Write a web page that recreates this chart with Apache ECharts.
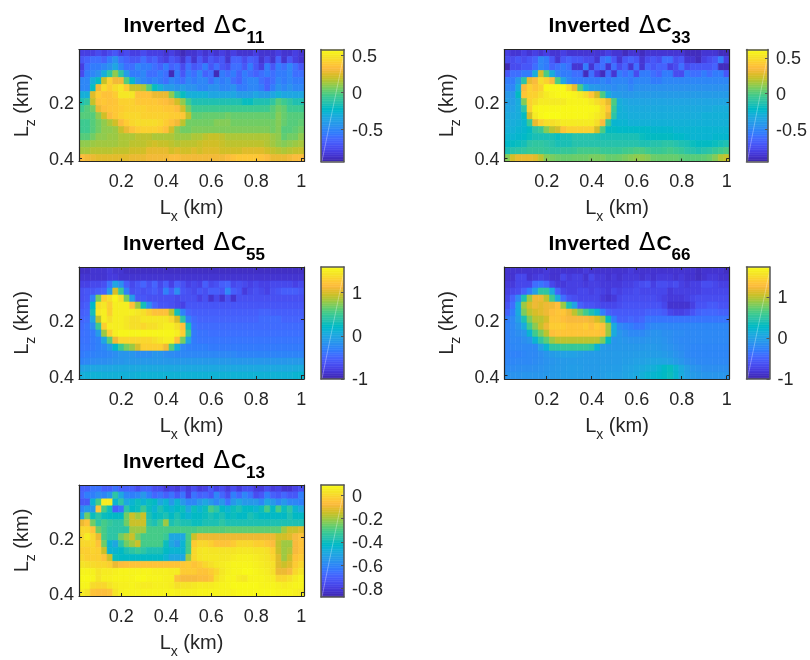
<!DOCTYPE html>
<html><head><meta charset="utf-8">
<style>html,body{margin:0;padding:0;background:#fff}#c{width:810px;height:660px;filter:blur(.55px)}</style>
<script src="https://cdn.jsdelivr.net/npm/echarts@6/dist/echarts.min.js"></script>
</head><body><div id="c"></div>
<script>
const lxKm=[.025,.05,.075,.1,.125,.15,.175,.2,.225,.25,.275,.3,.325,.35,.375,.4,.425,.45,.475,.5,.525,.55,.575,.6,.625,.65,.675,.7,.725,.75,.775,.8,.825,.85,.875,.9,.925,.95,.975,1];
const lzKm=[.025,.05,.075,.1,.125,.15,.175,.2,.225,.25,.275,.3,.325,.35,.375,.4];
const xTicks=[.2,.4,.6,.8,1];
const zTicks=[.2,.4];
const c11=[
[-.8,-.8,-.8,-.75,-.8,-.75,-.7,-.8,-.75,-.8,-.8,-.75,-.8,-.8,-.8,-.85,-.8,-.85,-.9,-.85,-.85,-.8,-.85,-.8,-.85,-.8,-.85,-.8,-.85,-.85,-.85,-.8,-.85,-.85,-.85,-.8,-.85,-.85,-.8,-.85],
[-.7,-.65,-.6,-.6,-.65,-.55,-.45,-.6,-.65,-.7,-.7,-.6,-.7,-.65,-.75,-.8,-.7,-.75,-.85,-.7,-.85,-.7,-.8,-.7,-.75,-.7,-.85,-.65,-.65,-.75,-.65,-.7,-.85,-.75,-.85,-.65,-.85,-.7,-.8,-.85],
[-.8,-.6,-.55,-.55,-.5,-.45,-.35,-.5,-.6,-.6,-.5,-.55,-.55,-.6,-.65,-.55,-.65,-.6,-.75,-.6,-.7,-.65,-.55,-.7,-.6,-.7,-.75,-.6,-.6,-.7,-.55,-.7,-.8,-.55,-.7,-.55,-.6,-.5,-.6,-.7],
[-.75,-.55,-.5,-.45,-.3,-.1,.1,-.1,-.4,-.55,-.55,-.5,-.6,-.6,-.55,-.6,-.9,-.55,-.7,-.55,-.6,-.5,-.65,-.6,-.9,-.55,-.6,-.55,-.65,-.55,-.6,-.65,-.6,-.55,-.6,-.55,-.55,-.5,-.6,-.6],
[-.5,-.5,-.3,-.2,.2,.42,.3,.3,0,-.25,-.45,-.5,-.55,-.5,-.55,-.6,-.5,-.55,-.6,-.5,-.55,-.5,-.5,-.6,-.5,-.55,-.5,-.6,-.65,-.55,-.5,-.5,-.6,-.65,-.6,-.5,-.55,-.5,-.55,-.55],
[-.5,-.5,-.2,.3,.46,.4,.46,.5,.4,.2,.2,.15,0,-.2,-.3,-.4,-.4,-.45,-.4,-.45,-.45,-.5,-.5,-.45,-.45,-.5,-.5,-.45,-.55,-.55,-.5,-.5,-.55,-.65,-.55,-.45,-.5,-.45,-.5,-.5],
[-.3,-.3,.25,.4,.36,.36,.4,.5,.5,.5,.36,.36,.36,.28,.28,.28,.1,-.1,-.2,-.3,-.3,-.3,-.3,-.35,-.35,-.35,-.35,-.35,-.4,-.4,-.4,-.35,-.4,-.4,-.35,-.3,-.35,-.35,-.35,-.35],
[-.15,-.1,.2,.36,.38,.36,.37,.42,.42,.42,.38,.38,.38,.38,.36,.34,.3,.22,.1,-.05,-.15,-.15,-.15,-.15,-.15,-.15,-.15,-.15,-.15,-.2,-.2,-.15,-.15,-.15,-.1,0,-.05,-.1,-.15,-.15],
[-.05,0,.05,.28,.35,.37,.38,.4,.42,.42,.42,.42,.4,.4,.4,.38,.38,.34,.22,.05,-.05,-.05,-.05,-.05,-.05,-.05,-.05,-.05,-.05,-.05,-.05,-.05,-.05,-.05,0,.05,.02,-.05,-.05,-.05],
[0,0,0,.1,.22,.33,.38,.42,.44,.44,.44,.42,.42,.42,.42,.42,.4,.4,.38,.18,.02,.02,.03,.03,.03,.03,.05,.03,.03,.03,.03,.03,.03,.03,.02,.08,.03,0,0,0],
[-.05,-.05,0,.05,.1,.15,.22,.33,.4,.44,.46,.46,.46,.46,.44,.4,.36,.3,.18,.05,.05,.05,.05,.05,.08,.08,.08,.05,.05,.05,.05,.05,.05,.05,.05,.08,.03,0,0,.02],
[-.05,-.05,0,.05,.1,.1,.12,.2,.28,.36,.4,.42,.42,.42,.4,.35,.22,.1,.05,.05,.07,.07,.07,.07,.07,.07,.07,.07,.07,.07,.07,.07,.07,.07,.05,.08,0,0,.02,.05],
[0,0,.05,.1,.1,.12,.12,.15,.15,.15,.18,.18,.18,.15,.15,.15,.15,.12,.12,.12,.15,.15,.18,.2,.2,.18,.15,.15,.15,.15,.15,.15,.15,.15,.12,.1,.02,.05,.05,.1],
[.1,.1,.12,.13,.13,.13,.13,.15,.15,.18,.18,.18,.2,.22,.2,.2,.18,.16,.18,.18,.18,.2,.22,.22,.22,.2,.18,.18,.18,.18,.18,.18,.18,.16,.13,.1,.08,.1,.12,.14],
[.14,.14,.17,.17,.17,.17,.19,.19,.19,.22,.22,.22,.27,.27,.27,.27,.22,.25,.22,.22,.25,.22,.25,.25,.25,.22,.22,.22,.22,.25,.25,.25,.25,.22,.19,.17,.15,.17,.19,.2],
[.33,.3,.28,.26,.26,.26,.26,.26,.26,.28,.28,.28,.3,.3,.3,.3,.33,.33,.3,.3,.3,.3,.3,.3,.3,.3,.33,.36,.38,.38,.38,.38,.36,.33,.28,.28,.28,.3,.33,.33]];
const c33=[
[-.8,-.85,-.85,-.8,-.85,-.8,-.85,-.8,-.85,-.85,-.8,-.85,-.85,-.85,-.85,-.85,-.85,-.85,-.8,-.85,-.85,-.9,-.85,-.85,-.9,-.85,-.85,-.85,-.85,-.85,-.85,-.85,-.9,-.9,-.9,-.85,-.85,-.85,-.9,-.9],
[-.75,-.75,-.7,-.75,-.7,-.65,-.5,-.55,-.7,-.85,-.7,-.65,-.7,-.7,-.75,-.75,-.85,-.6,-.55,-.7,-.85,-.7,-.65,-.7,-.85,-.75,-.7,-.75,-.6,-.6,-.75,-.7,-.85,-.85,-.9,-.8,-.75,-.7,-.55,-.8],
[-.92,-.75,-.75,-.7,-.7,-.6,-.5,-.55,-.65,-.6,-.55,-.6,-.85,-.85,-.55,-.85,-.65,-.6,-.85,-.6,-.75,-.65,-.85,-.6,-.85,-.65,-.7,-.65,-.65,-.8,-.75,-.6,-.75,-.7,-.7,-.7,-.7,-.65,-.9,-.9],
[-.7,-.6,-.6,-.55,-.55,-.3,.25,0,-.3,-.5,-.55,-.55,-.6,-.6,-.9,-.6,-.8,-.9,-.6,-.85,-.55,-.6,-.55,-.75,-.55,-.55,-.6,-.65,-.55,-.55,-.75,-.75,-.55,-.6,-.6,-.55,-.6,-.55,-.55,-.7],
[-.55,-.55,-.4,-.1,.3,.35,.5,.45,.35,0,-.35,-.5,-.55,-.55,-.55,-.55,-.55,-.5,-.55,-.5,-.5,-.5,-.55,-.5,-.5,-.5,-.55,-.55,-.5,-.5,-.5,-.5,-.5,-.5,-.5,-.5,-.5,-.5,-.5,-.5],
[-.5,-.5,-.3,.35,.45,.4,.45,.6,.6,.6,.6,.5,.3,0,-.3,-.4,-.42,-.45,-.45,-.48,-.45,-.45,-.5,-.45,-.45,-.45,-.45,-.45,-.45,-.45,-.45,-.45,-.45,-.45,-.45,-.45,-.45,-.45,-.45,-.45],
[-.42,-.42,-.2,.4,.45,.45,.5,.55,.58,.6,.6,.6,.58,.55,.5,.4,.25,0,-.3,-.4,-.4,-.42,-.42,-.4,-.4,-.4,-.4,-.4,-.4,-.4,-.4,-.4,-.4,-.4,-.4,-.4,-.4,-.4,-.4,-.4],
[-.38,-.38,-.3,.1,.45,.5,.55,.55,.55,.55,.55,.58,.58,.58,.58,.55,.5,.45,.3,0,-.3,-.33,-.35,-.35,-.35,-.35,-.35,-.35,-.35,-.35,-.35,-.35,-.35,-.35,-.35,-.35,-.35,-.35,-.35,-.35],
[-.35,-.35,-.3,-.1,.45,.58,.6,.6,.6,.6,.6,.6,.6,.6,.6,.6,.58,.5,.4,-.05,-.28,-.3,-.32,-.32,-.32,-.32,-.32,-.32,-.32,-.32,-.32,-.32,-.32,-.32,-.32,-.32,-.32,-.3,-.3,-.3],
[-.32,-.32,-.3,-.2,.25,.55,.6,.62,.62,.62,.6,.6,.6,.6,.6,.58,.55,.5,.3,-.1,-.28,-.28,-.3,-.3,-.3,-.3,-.3,-.3,-.3,-.3,-.3,-.3,-.3,-.3,-.3,-.28,-.28,-.28,-.28,-.28],
[-.3,-.3,-.28,-.25,-.05,.3,.45,.5,.5,.52,.55,.55,.55,.55,.55,.55,.5,.35,-.05,-.25,-.26,-.26,-.28,-.28,-.28,-.28,-.28,-.28,-.28,-.28,-.28,-.28,-.28,-.28,-.28,-.28,-.28,-.28,-.28,-.28],
[-.28,-.28,-.26,-.24,-.2,-.1,-.05,.1,.2,.25,.4,.45,.45,.45,.45,.45,.25,0,-.2,-.2,-.22,-.22,-.22,-.22,-.22,-.22,-.24,-.24,-.24,-.24,-.26,-.26,-.26,-.26,-.26,-.26,-.26,-.26,-.26,-.26],
[-.26,-.26,-.24,-.22,-.18,-.15,-.15,-.15,-.15,-.18,-.15,-.15,-.12,-.12,-.12,-.12,-.14,-.15,-.15,-.15,-.15,-.15,-.15,-.15,-.18,-.2,-.2,-.2,-.2,-.2,-.22,-.22,-.24,-.26,-.26,-.26,-.26,-.24,-.24,-.24],
[-.22,-.2,-.18,-.16,-.1,-.08,-.08,-.1,-.12,-.15,-.15,-.15,-.12,-.12,-.12,-.12,-.12,-.12,-.12,-.12,-.12,-.12,-.12,-.12,-.14,-.14,-.12,-.12,-.1,-.1,-.12,-.14,-.15,-.18,-.2,-.2,-.2,-.18,-.16,-.14],
[-.15,-.12,-.1,-.08,-.05,-.05,-.05,-.06,-.08,-.08,-.06,-.06,-.05,-.02,-.02,-.02,-.02,-.05,-.05,-.05,-.05,-.03,-.02,0,0,-.03,-.05,-.05,-.04,-.02,-.04,-.06,-.1,-.12,-.14,-.12,-.1,-.06,-.03,0],
[.1,.25,.3,.3,.3,.28,.2,.1,.08,.06,.05,.05,.06,.06,.06,.08,.08,.08,.05,.05,.06,.08,.1,.12,.12,.1,.06,.05,.05,.05,.05,.03,.02,.02,.02,.03,.05,.1,.18,.22]];
const c55=[
[-.9,-.9,-.85,-.85,-.85,-.8,-.85,-.85,-.9,-.9,-.9,-.9,-.9,-.9,-.9,-.9,-.9,-.9,-.9,-.9,-.9,-.9,-.9,-.9,-.9,-.9,-.9,-.9,-.9,-.9,-.9,-.9,-.9,-.9,-.9,-.9,-.9,-.9,-.9,-.9],
[-.85,-.85,-.85,-.85,-.85,-.8,-.8,-.85,-.85,-.85,-.85,-.85,-.85,-.85,-.85,-.85,-.85,-.85,-.85,-.85,-.85,-.85,-.85,-.85,-.85,-.85,-.85,-.85,-.85,-.85,-.85,-.85,-.85,-.85,-.85,-.85,-.85,-.85,-.85,-.85],
[-.75,-.75,-.7,-.7,-.65,-.4,0,-.2,-.55,-.7,-.6,-.5,-.65,-.5,-.7,-.55,-.75,-.55,-.65,-.75,-.7,-.75,-.55,-.7,-.65,-.55,-.5,-.7,-.65,-.7,-.75,-.7,-.75,-.75,-.7,-.7,-.7,-.7,-.75,-.7],
[-.65,-.6,-.6,-.55,-.5,-.1,1,.5,-.3,-.65,-.6,-.65,-.6,-.55,-.65,-.3,-.55,-.2,-.6,-.65,-.7,-.6,-.65,-.55,-.55,-.6,-.25,-.55,-.6,-.8,-.7,-.65,-.7,-.75,-.65,-.6,-.55,-.55,-.55,-.6],
[-.65,-.6,-.3,.7,1.3,1.4,1.55,1.4,.7,-.1,-.6,-.6,-.65,-.65,-.65,-.65,-.65,-.7,-.65,-.65,-.65,-.75,-.65,-.85,-.7,-.85,-.65,-.85,-.65,-.65,-.65,-.65,-.65,-.65,-.65,-.65,-.65,-.65,-.65,-.65],
[-.6,-.55,.2,1.4,1.45,1.3,1.5,1.5,1.5,1.2,.8,.3,-.2,-.5,-.6,-.6,-.65,-.7,-.75,-.6,-.6,-.6,-.6,-.6,-.6,-.6,-.6,-.6,-.6,-.6,-.6,-.6,-.6,-.6,-.6,-.6,-.6,-.6,-.6,-.6],
[-.55,-.5,.3,1.45,1.5,1.3,1.5,1.5,1.5,1.5,1.45,1.4,1.3,1.2,1.2,1.2,.9,.3,-.3,-.5,-.55,-.55,-.55,-.55,-.55,-.55,-.55,-.55,-.55,-.55,-.55,-.55,-.5,-.5,-.55,-.55,-.55,-.55,-.55,-.55],
[-.5,-.45,0,.9,1.5,1.4,1.5,1.5,1.45,1.4,1.4,1.45,1.45,1.45,1.45,1.45,1.35,1,.4,-.3,-.45,-.5,-.5,-.5,-.5,-.5,-.5,-.5,-.5,-.5,-.5,-.5,-.45,-.45,-.45,-.45,-.5,-.5,-.5,-.5],
[-.45,-.4,-.2,.5,1.3,1.5,1.5,1.5,1.45,1.4,1.4,1.35,1.4,1.4,1.45,1.5,1.5,1.4,1.2,.3,-.4,-.45,-.45,-.45,-.45,-.45,-.45,-.45,-.45,-.45,-.45,-.45,-.45,-.45,-.45,-.45,-.45,-.45,-.45,-.45],
[-.42,-.4,-.35,-.1,.8,1.3,1.5,1.55,1.55,1.55,1.55,1.55,1.55,1.55,1.55,1.55,1.55,1.5,1.3,.5,-.35,-.4,-.4,-.42,-.42,-.42,-.42,-.42,-.42,-.42,-.42,-.42,-.42,-.42,-.42,-.42,-.42,-.42,-.42,-.42],
[-.4,-.4,-.35,-.3,0,.6,1.1,1.35,1.35,1.35,1.35,1.35,1.35,1.4,1.45,1.5,1.5,1.2,.7,0,-.35,-.38,-.38,-.38,-.38,-.38,-.38,-.38,-.38,-.38,-.38,-.38,-.38,-.38,-.38,-.38,-.38,-.38,-.38,-.38],
[-.38,-.38,-.35,-.3,-.25,-.1,.2,.5,.7,.8,1,1.3,1.3,1.3,1.3,1.1,.6,.1,-.25,-.3,-.32,-.32,-.32,-.35,-.35,-.35,-.35,-.35,-.35,-.35,-.35,-.35,-.35,-.35,-.35,-.35,-.35,-.35,-.35,-.35],
[-.35,-.32,-.3,-.28,-.28,-.25,-.2,-.15,-.15,-.15,-.2,-.2,-.2,-.15,-.15,-.2,-.22,-.25,-.25,-.25,-.25,-.25,-.25,-.25,-.25,-.25,-.25,-.25,-.28,-.28,-.28,-.28,-.28,-.28,-.28,-.28,-.28,-.28,-.28,-.28],
[-.28,-.25,-.22,-.2,-.2,-.18,-.15,-.15,-.12,-.12,-.12,-.12,-.12,-.12,-.12,-.12,-.12,-.12,-.12,-.12,-.12,-.12,-.12,-.12,-.12,-.12,-.12,-.14,-.14,-.14,-.14,-.14,-.14,-.14,-.14,-.14,-.14,-.12,-.12,-.12],
[-.05,-.02,0,0,0,0,.02,.03,.03,.03,.03,.03,.03,.03,.03,.03,.03,.02,.02,.02,.02,.02,.02,.02,.02,.02,.02,.02,.02,.02,.02,.02,.02,.02,.02,.02,.02,.02,.04,.05],
[.08,.1,.12,.12,.1,.1,.1,.1,.1,.1,.12,.12,.12,.12,.12,.12,.12,.12,.12,.12,.12,.12,.12,.12,.12,.12,.12,.12,.12,.12,.12,.12,.12,.12,.12,.12,.12,.12,.14,.15]];
const c66=[
[-.85,-.85,-.85,-.85,-.85,-.85,-.85,-.8,-.85,-.85,-.85,-.85,-.85,-.85,-.8,-.85,-.85,-.85,-.85,-.85,-.85,-.85,-.8,-.85,-.85,-.85,-.85,-.85,-.85,-.85,-.85,-.85,-.85,-.85,-.9,-.85,-.85,-.85,-.85,-.9],
[-.85,-.85,-.7,-.7,-.85,-.8,-.75,-.8,-.85,-.85,-.7,-.8,-.75,-.75,-.85,-.7,-.8,-.8,-.85,-.8,-.85,-.8,-.8,-.8,-.85,-.8,-.85,-.8,-.8,-.8,-.85,-.8,-.85,-.85,-.9,-.85,-.8,-.8,-.85,-.85],
[-.8,-.8,-.7,-.7,-.7,-.4,-.35,-.45,-.7,-.8,-.8,-.75,-.75,-.75,-.8,-.75,-.75,-.8,-.8,-.8,-.8,-.75,-.75,-.7,-.65,-.6,-.75,-.65,-.65,-.7,-.65,-.75,-.8,-.75,-.75,-.65,-.65,-.7,-.75,-.75],
[-.75,-.7,-.65,-.5,-.3,0,.5,.5,.1,-.5,-.7,-.75,-.75,-.7,-.7,-.75,-.7,-.75,-.8,-.7,-.75,-.7,-.7,-.65,-.7,-.7,-.7,-.7,-.7,-.8,-.75,-.75,-.75,-.75,-.75,-.7,-.7,-.7,-.7,-.7],
[-.7,-.5,-.2,.4,.9,1.2,1.2,1,.6,.1,-.4,-.6,-.65,-.7,-.7,-.7,-.7,-.8,-.85,-.8,-.7,-.65,-.65,-.65,-.65,-.65,-.65,-.7,-.75,-.8,-.8,-.8,-.75,-.7,-.65,-.65,-.65,-.65,-.65,-.65],
[-.6,-.4,.1,.9,1.1,1.2,1.15,1.2,1.2,1.3,.9,.4,0,-.5,-.6,-.6,-.65,-.7,-.7,-.7,-.65,-.6,-.6,-.6,-.6,-.6,-.6,-.6,-.7,-.85,-.85,-.85,-.85,-.75,-.6,-.6,-.55,-.55,-.6,-.6],
[-.5,-.3,.1,.8,1,1.1,1.15,1.2,1.3,1.35,1.35,1.2,1,.8,.6,.4,.2,-.3,-.5,-.55,-.55,-.55,-.55,-.55,-.55,-.5,-.5,-.5,-.55,-.7,-.75,-.75,-.7,-.6,-.5,-.45,-.45,-.45,-.5,-.5],
[-.3,-.2,0,.4,.8,1,1,1.1,1.35,1.35,1.3,1.25,1.25,1.25,1.25,1.2,1.1,.9,.3,-.3,-.5,-.5,-.45,-.5,-.45,-.35,-.35,-.35,-.35,-.35,-.35,-.35,-.35,-.35,-.35,-.35,-.35,-.35,-.35,-.35],
[-.25,-.2,-.1,.1,.6,.85,1.05,1.2,1.4,1.4,1.4,1.35,1.35,1.35,1.4,1.3,1.4,1.3,.9,.1,-.2,-.25,-.3,-.35,-.35,-.25,-.2,-.2,-.2,-.22,-.22,-.22,-.22,-.22,-.22,-.22,-.22,-.22,-.22,-.22],
[-.25,-.2,-.15,-.1,.2,.6,.8,1,1.3,1.35,1.35,1.35,1.35,1.35,1.35,1.35,1.35,1.3,.9,.1,-.1,-.15,-.2,-.2,-.2,-.15,-.12,-.12,-.15,-.15,-.18,-.18,-.2,-.2,-.2,-.2,-.2,-.2,-.2,-.2],
[-.25,-.2,-.2,-.15,-.1,.2,.5,.7,.9,1,1,1,1,1,1,1,1,.8,.3,-.1,-.08,-.1,-.12,-.12,-.12,-.1,-.1,-.1,-.12,-.15,-.18,-.2,-.2,-.2,-.2,-.2,-.2,-.2,-.2,-.2],
[-.25,-.22,-.2,-.2,-.2,-.2,0,.2,.5,.5,.55,.55,.55,.55,.55,.5,.2,-.05,-.08,-.08,-.08,-.08,-.08,-.08,-.08,-.06,-.06,-.08,-.1,-.12,-.15,-.18,-.2,-.22,-.22,-.22,-.22,-.22,-.22,-.22],
[-.25,-.25,-.25,-.22,-.2,-.2,-.15,-.1,-.05,-.02,0,0,0,-.02,-.05,-.05,-.05,-.05,-.05,-.05,-.05,-.05,-.05,-.04,-.03,-.03,-.03,-.03,-.05,-.08,-.12,-.15,-.2,-.22,-.22,-.22,-.22,-.22,-.22,-.22],
[-.22,-.22,-.2,-.2,-.2,-.18,-.15,-.12,-.1,-.08,-.06,-.05,-.05,-.05,-.05,-.05,-.05,-.05,-.05,-.05,-.05,-.03,-.02,0,0,.03,.05,.05,.03,0,-.05,-.1,-.15,-.18,-.2,-.2,-.2,-.2,-.2,-.2],
[-.18,-.18,-.16,-.15,-.15,-.14,-.12,-.1,-.08,-.06,-.05,-.03,-.03,-.03,-.05,-.05,-.05,-.03,-.03,-.03,-.03,0,.02,.05,.08,.12,.15,.2,.28,.32,.2,.08,-.02,-.1,-.12,-.15,-.15,-.15,-.15,-.15],
[-.12,-.12,-.12,-.1,-.1,-.1,-.1,-.08,-.06,-.05,-.03,-.03,-.03,-.03,-.03,-.03,-.03,-.02,0,0,0,.03,.05,.08,.15,.2,.22,.25,.3,.35,.22,.1,0,-.05,-.08,-.1,-.1,-.1,-.1,-.1]];
const c13=[
[-.7,-.7,-.65,-.65,-.7,-.7,-.65,-.7,-.7,-.7,-.75,-.7,-.7,-.75,-.75,-.8,-.78,-.8,-.75,-.8,-.75,-.8,-.78,-.72,-.78,-.75,-.8,-.75,-.8,-.75,-.75,-.8,-.8,-.75,-.8,-.78,-.82,-.82,-.78,-.75],
[-.68,-.62,-.62,-.58,-.6,-.55,-.35,-.5,-.6,-.62,-.6,-.55,-.62,-.68,-.65,-.7,-.65,-.72,-.65,-.78,-.65,-.7,-.68,-.72,-.6,-.68,-.75,-.62,-.68,-.6,-.65,-.75,-.72,-.62,-.7,-.72,-.68,-.72,-.72,-.62],
[-.72,-.72,-.45,-.3,.05,.05,-.45,-.35,-.5,-.45,-.4,-.45,-.4,-.42,-.5,-.45,-.55,-.45,-.55,-.6,-.6,-.55,-.5,-.55,-.6,-.55,-.65,-.55,-.5,-.55,-.55,-.55,-.6,-.5,-.55,-.6,-.55,-.6,-.6,-.62],
[-.6,-.55,-.55,-.05,-.3,-.4,-.7,-.65,-.35,-.42,-.4,-.32,-.4,-.45,-.38,-.42,-.45,-.42,-.4,-.5,-.4,-.45,-.4,-.3,-.35,-.42,-.45,-.4,-.38,-.42,-.42,-.45,-.4,-.3,-.42,-.3,-.4,-.35,-.45,-.5],
[-.5,-.25,-.4,-.35,-.4,-.42,-.42,-.42,-.25,-.15,-.2,-.15,-.38,-.42,-.4,-.38,-.42,-.38,-.42,-.45,-.42,-.42,-.4,-.38,-.4,-.38,-.42,-.4,-.42,-.42,-.38,-.4,-.42,-.42,-.42,-.42,-.42,-.38,-.42,-.42],
[-.1,-.05,-.25,-.35,-.3,-.33,-.35,-.35,-.25,-.15,-.15,-.15,-.35,-.38,-.32,-.2,-.38,-.35,-.38,-.38,-.4,-.4,-.38,-.38,-.38,-.35,-.38,-.38,-.38,-.38,-.38,-.38,-.38,-.38,-.38,-.38,-.38,-.38,-.38,-.38],
[0,0,-.05,-.25,-.3,-.35,-.35,-.35,-.35,-.2,-.2,-.2,-.3,-.3,-.3,-.3,-.3,-.3,-.3,-.3,-.3,-.28,-.28,-.28,-.28,-.28,-.27,-.27,-.27,-.27,-.27,-.27,-.27,-.27,-.27,-.27,-.2,-.15,-.15,-.12],
[0,.05,0,-.1,-.3,-.35,-.35,-.25,-.2,-.15,-.25,-.3,-.3,-.3,-.3,-.32,-.5,-.5,-.5,-.3,-.15,-.1,-.1,-.1,-.1,-.1,-.1,-.1,-.1,-.1,-.1,-.1,-.1,-.1,-.1,-.14,-.14,-.12,-.08,-.05],
[0,0,0,-.05,-.25,-.45,-.5,-.35,-.25,-.2,-.15,-.3,-.3,-.3,-.3,-.4,-.5,-.55,-.45,-.3,-.03,0,0,-.02,-.05,-.05,-.05,-.03,0,0,0,-.02,-.02,-.04,-.07,-.16,-.2,-.2,-.08,-.05],
[-.02,-.02,-.01,-.02,-.15,-.45,-.45,-.42,-.38,-.35,-.32,-.35,-.38,-.38,-.38,-.42,-.45,-.45,-.45,-.3,0,.03,.04,.03,.03,.03,.03,.03,.04,.04,.04,.03,.03,.02,-.02,-.15,-.2,-.18,-.08,-.05],
[0,-.02,-.02,-.02,-.05,-.15,-.4,-.42,-.42,-.42,-.42,-.42,-.42,-.42,-.42,-.45,-.5,-.5,-.5,-.2,0,.03,.04,.04,.04,.04,.04,.05,.06,.06,.06,.05,.04,.03,0,-.12,-.2,-.15,-.05,-.03],
[.03,.02,.01,0,0,-.02,-.1,-.07,-.06,-.05,-.05,-.05,-.05,-.05,-.05,-.05,-.05,-.05,-.04,-.03,-.05,-.03,0,.02,.04,.05,.06,.07,.07,.07,.07,.06,.05,.04,.02,-.12,-.15,-.12,-.03,0],
[.07,.07,.06,.03,.05,.05,.06,.07,.07,.07,.07,.07,.07,.06,.06,.06,.05,.05,-.03,-.03,-.03,-.05,-.05,-.03,0,.04,.06,.07,.07,.08,.08,.07,.06,.05,.02,-.1,-.1,-.08,0,.03],
[.08,.08,.07,.03,.06,.06,.07,.07,.07,.07,.08,.08,.07,.07,.07,.06,.06,-.05,-.08,-.08,-.08,-.07,-.07,-.05,.02,.05,.07,.07,.05,.04,.07,.07,.07,.06,.05,0,0,.02,.05,.07],
[.07,.07,.01,0,0,.03,.05,.06,.06,.07,.06,.05,.05,.06,.06,.06,.05,.02,.03,.03,.04,.05,.05,.05,.06,.07,.07,.08,.08,.08,.08,.08,.07,.07,.07,.06,.05,.06,.07,.07],
[.05,.03,-.05,-.06,-.06,-.05,.03,.06,.07,.07,.07,.07,.07,.07,.07,.07,.07,.06,.06,.06,.06,.07,.07,.07,.07,.07,.07,.07,.08,.08,.08,.08,.08,.08,.08,.07,.07,.07,.06,.05]];
const parula=[[.2422,.1504,.6603],[.2504,.165,.7076],[.2578,.1818,.7511],[.2647,.1978,.7952],[.2706,.2147,.8364],[.2751,.2342,.871],[.2783,.2559,.8991],[.2803,.2782,.9221],[.2813,.3006,.9414],[.281,.3228,.9579],[.2795,.3447,.9717],[.276,.3667,.9829],[.2699,.3892,.9906],[.2602,.4123,.9952],[.244,.4358,.9988],[.2206,.4603,.9973],[.1963,.4847,.9892],[.1834,.5074,.9798],[.1786,.5289,.9682],[.1764,.5499,.952],[.1687,.5703,.9359],[.154,.5902,.9218],[.146,.6091,.9079],[.138,.6276,.8973],[.1248,.6459,.8883],[.1113,.6635,.8763],[.0952,.6798,.8598],[.0689,.6948,.8394],[.0297,.7082,.8163],[.0036,.7203,.7917],[.0067,.7312,.766],[.0433,.7411,.7394],[.0964,.75,.712],[.1408,.7584,.6842],[.1717,.767,.6554],[.1938,.7758,.6251],[.2161,.7843,.5923],[.247,.7918,.5567],[.2906,.7973,.5188],[.3406,.8008,.4789],[.3909,.8029,.4354],[.4456,.8024,.3909],[.5044,.7993,.348],[.5616,.7942,.3045],[.6174,.7876,.2612],[.672,.7793,.2227],[.7242,.7698,.191],[.7738,.7598,.1646],[.8203,.7498,.1535],[.8634,.7406,.1596],[.9035,.733,.1774],[.9393,.7288,.21],[.9728,.7298,.2394],[.9956,.7434,.2371],[.9965,.765,.2199],[.9952,.7885,.2028],[.9892,.8135,.1885],[.9786,.8386,.1766],[.9676,.8639,.1643],[.961,.889,.1537],[.9597,.9135,.1423],[.9628,.9373,.1265],[.9691,.9606,.1064],[.9769,.9839,.0805]]
  .map(c=>`rgb(${c.map(v=>Math.round(v*255)).join(',')})`);
const panels=[
 {sub:'11',rows:c11,lim:[-.935,.58],ticks:[-.5,0,.5],left:79,top:49.5},
 {sub:'33',rows:c33,lim:[-.945,.615],ticks:[-.5,0,.5],left:504.5,top:49.5},
 {sub:'55',rows:c55,lim:[-1,1.59],ticks:[-1,0,1],left:79,top:267},
 {sub:'66',rows:c66,lim:[-1,1.725],ticks:[-1,0,1],left:504.5,top:267},
 {sub:'13',rows:c13,lim:[-.873,.088],ticks:[-.8,-.6,-.4,-.2,0],left:79,top:485}
];
const W=225,H=112,font='"Liberation Sans",Arial,sans-serif',ink='#262626',barInk='#555';
const rich={m:{fontSize:20,fontFamily:font,color:ink,lineHeight:32,verticalAlign:'middle'},
 s:{fontSize:14,fontFamily:font,color:ink,lineHeight:14,verticalAlign:'bottom'}};
const titleRich={m:{fontSize:21,fontWeight:'bold',fontFamily:font,color:'#000',lineHeight:40,verticalAlign:'middle'},
 d:{fontSize:24,fontFamily:'"DejaVu Sans"',fontWeight:'normal',color:'#000',lineHeight:40,verticalAlign:'middle',padding:[0,1,0,3]},
 s:{fontSize:17,fontWeight:'bold',fontFamily:font,color:'#000',lineHeight:16,verticalAlign:'bottom'}};
const option={animation:false,backgroundColor:'#fff',title:[],grid:[],xAxis:[],yAxis:[],series:[],visualMap:[]};
const labelBase={fontSize:18,fontFamily:font,color:ink,lineHeight:18};
const tickLabel={fontSize:18,fontFamily:font,color:ink,hideOverlap:false};
function box(pos,extra){return Object.assign({type:'value',position:pos,z:5,splitLine:{show:false},
  axisLine:{show:true,onZero:false,lineStyle:{color:ink,width:1.2}},axisTick:{show:false},axisLabel:{show:false}},extra);}
panels.forEach(p=>{
  const g=option.grid.length;
  option.grid.push({left:p.left,top:p.top,width:W,height:H},{left:p.left+242,top:p.top,width:23,height:H});
  const xi=option.xAxis.length,yi=option.yAxis.length,si=option.series.length;
  const tickX={show:true,inside:true,length:3,lineStyle:{color:ink},customValues:xTicks};
  const tickZ={show:true,inside:true,length:3,lineStyle:{color:ink},customValues:zTicks};
  const xr={min:.0125,max:1.0125,gridIndex:g},zr={min:.0125,max:.4125,inverse:true,gridIndex:g};
  const barLine={show:true,onZero:false,lineStyle:{color:barInk,width:1.5}};
  option.xAxis.push(
    box('bottom',{...xr,axisTick:tickX,axisLabel:{show:true,...tickLabel,margin:12,customValues:xTicks},
      name:'{m|L}{s|x}{m| (km)}',nameLocation:'middle',nameGap:31,nameTextStyle:{rich}}),
    box('top',{...xr,axisTick:tickX}),
    box('bottom',{min:0,max:1,gridIndex:g+1,axisLine:barLine}),
    box('top',{min:0,max:1,gridIndex:g+1,axisLine:barLine}));
  option.yAxis.push(
    box('left',{...zr,axisTick:tickZ,axisLabel:{show:true,hideOverlap:false,margin:5,customValues:zTicks,formatter:'{v|{value}}',
        rich:{v:{...labelBase,padding:[5,0,0,0]}}},
      name:'{m|L}{s|z}{m| (km)}',nameLocation:'middle',nameGap:41,nameTextStyle:{rich}}),
    box('right',{...zr,axisTick:tickZ}),
    box('left',{min:p.lim[0],max:p.lim[1],gridIndex:g+1,axisLine:barLine}),
    box('right',{min:p.lim[0],max:p.lim[1],gridIndex:g+1,axisLine:barLine,
      axisTick:{show:true,inside:true,length:3,lineStyle:{color:barInk},customValues:p.ticks},
      axisLabel:{show:true,hideOverlap:false,margin:8,customValues:p.ticks,formatter:'{v|{value}}',
        rich:{v:{...labelBase,padding:[3,0,0,0]}}}}));
  const cells=[];
  p.rows.forEach((row,j)=>row.forEach((v,i)=>cells.push([lxKm[i],lzKm[j],v])));
  const rect=(hx,hy)=>(params,api)=>{
    const a=api.coord([api.value(0)-hx,api.value(1)-hy]),b=api.coord([api.value(0)+hx,api.value(1)+hy]);
    const c=api.visual('color');
    return {type:'rect',shape:{x:Math.min(a[0],b[0]),y:Math.min(a[1],b[1]),width:Math.abs(a[0]-b[0]),height:Math.abs(a[1]-b[1])},
      style:{fill:c,stroke:c,lineWidth:.6}};
  };
  option.series.push({type:'custom',z:1,xAxisIndex:xi,yAxisIndex:yi,clip:true,silent:true,data:cells,
    encode:{x:0,y:1},renderItem:rect(.0125,.0125)});
  const n=parula.length,step=(p.lim[1]-p.lim[0])/n,levels=parula.map((_,k)=>[.5,p.lim[0]+(k+.5)*step,p.lim[0]+(k+.5)*step]);
  option.series.push({type:'custom',z:1,xAxisIndex:xi+2,yAxisIndex:yi+2,clip:true,silent:true,data:levels,
    encode:{x:0,y:1},renderItem:rect(.5,step/2)});
  option.series.push({type:'line',xAxisIndex:xi+2,yAxisIndex:yi+2,silent:true,symbol:'none',
    data:[[.04,p.lim[0]],[1,p.lim[1]-(p.lim[1]-p.lim[0])*.04]],lineStyle:{color:'#fff',width:.6,opacity:.55},z:3});
  option.visualMap.push({show:false,type:'continuous',seriesIndex:[si,si+1],dimension:2,min:p.lim[0],max:p.lim[1],inRange:{color:parula}});
  option.title.push({text:`{m|Inverted }{d|Δ}{m|C}{s|${p.sub}}`,left:p.left+110,top:p.top-48,textAlign:'center',textStyle:{rich:titleRich}});
});
echarts.init(document.getElementById('c'),null,{renderer:'canvas'}).setOption(option);
</script></body></html>
